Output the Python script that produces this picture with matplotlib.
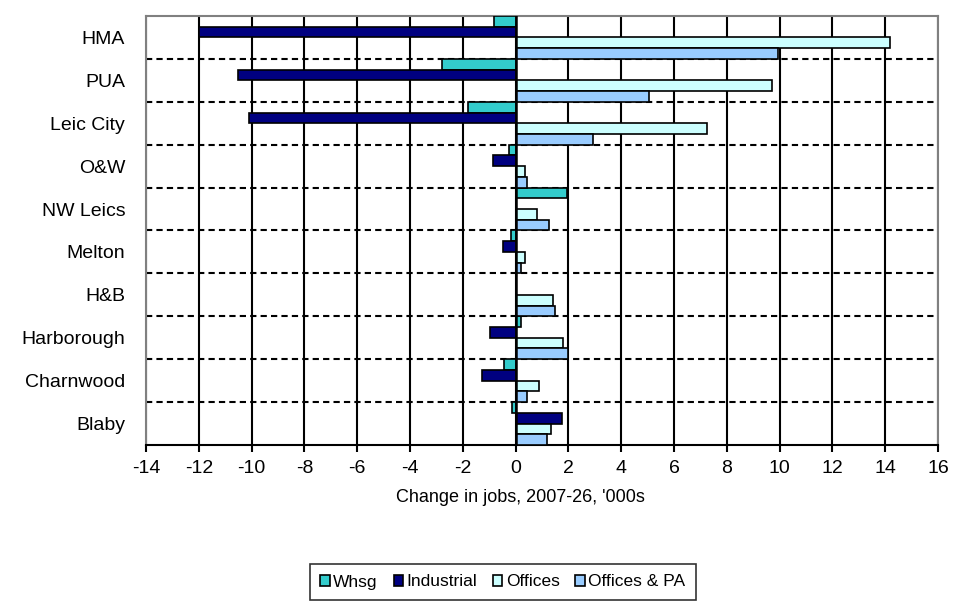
import matplotlib
matplotlib.use("Agg")
import matplotlib.pyplot as plt
import numpy as np
from matplotlib.ticker import FixedLocator

plt.rcParams['font.family'] = ['Liberation Sans', 'DejaVu Sans']

categories = ["HMA", "PUA", "Leic City", "O&W", "NW Leics", "Melton",
              "H&B", "Harborough", "Charnwood", "Blaby"]
series_names = ["Whsg", "Industrial", "Offices", "Offices & PA"]
whsg = [-0.8, -2.8, -1.8, -0.25, 1.95, -0.18, 0.0, 0.2, -0.44, -0.15]
industrial = [-12.0, -10.5, -10.1, -0.85, 0.0, -0.47, 0.0, -0.97, -1.29, 1.74]
offices = [14.2, 9.7, 7.25, 0.35, 0.82, 0.35, 1.42, 1.78, 0.88, 1.33]
offices_pa = [9.95, 5.05, 2.93, 0.44, 1.27, 0.2, 1.49, 2.0, 0.42, 1.19]
colors = ["#33CCCC", "#000080", "#CCFFFF", "#99CCFF"]
x_ticks = list(range(-14, 17, 2))

FS = 14

fig = plt.figure(figsize=(9.56, 6.03), dpi=100)
ax = fig.add_axes([146/956, 1-445/603, (938-146)/956, (445-16)/603])

y = np.arange(len(categories))
h = 0.25
data = [whsg, industrial, offices, offices_pa]
for k, (vals, col, name) in enumerate(zip(data, colors, series_names)):
    ax.barh(y + (k - 1.5) * h, vals, height=h, color=col, edgecolor='black',
            linewidth=1.2, label=name, zorder=3)

ax.set_xlim(-14, 16)
ax.set_ylim(len(categories) - 0.5, -0.5)
ax.set_xticks(x_ticks)
ax.set_xticklabels([str(t) for t in x_ticks], fontsize=FS)
ax.set_yticks(y)
ax.set_yticklabels(categories, fontsize=FS)
ax.yaxis.set_minor_locator(FixedLocator(np.arange(0.5, len(categories) - 0.5, 1)))
ax.tick_params(axis='y', which='both', length=0, pad=15)
ax.tick_params(axis='x', which='major', length=5, width=1.5, direction='out', pad=6)
ax.grid(axis='x', which='major', color='black', linewidth=1.5, linestyle='-', zorder=1)
ax.grid(axis='y', which='minor', color='black', linewidth=1.5, linestyle=(0, (3, 2)), zorder=1)
ax.set_axisbelow(True)
ax.axvline(0, color='black', linewidth=1.8, zorder=4)

for side in ['left', 'top', 'right']:
    ax.spines[side].set_color('#808080')
    ax.spines[side].set_linewidth(1.5)
ax.spines['bottom'].set_color('black')
ax.spines['bottom'].set_linewidth(1.5)

fig.text(520/956, 1-497/603, "Change in jobs, 2007-26, '000s", ha='center', va='center',
         fontsize=13)

leg = fig.legend(loc='center', bbox_to_anchor=(503/956, 1-582/603), ncol=4,
                 fontsize=12.5, frameon=True, fancybox=False, edgecolor='black',
                 handlelength=0.55, handleheight=0.55, handletextpad=0.2,
                 columnspacing=0.9, borderpad=0.6, borderaxespad=0)
leg.get_frame().set_linewidth(1.2)

fig.savefig("out.png", dpi=100)
